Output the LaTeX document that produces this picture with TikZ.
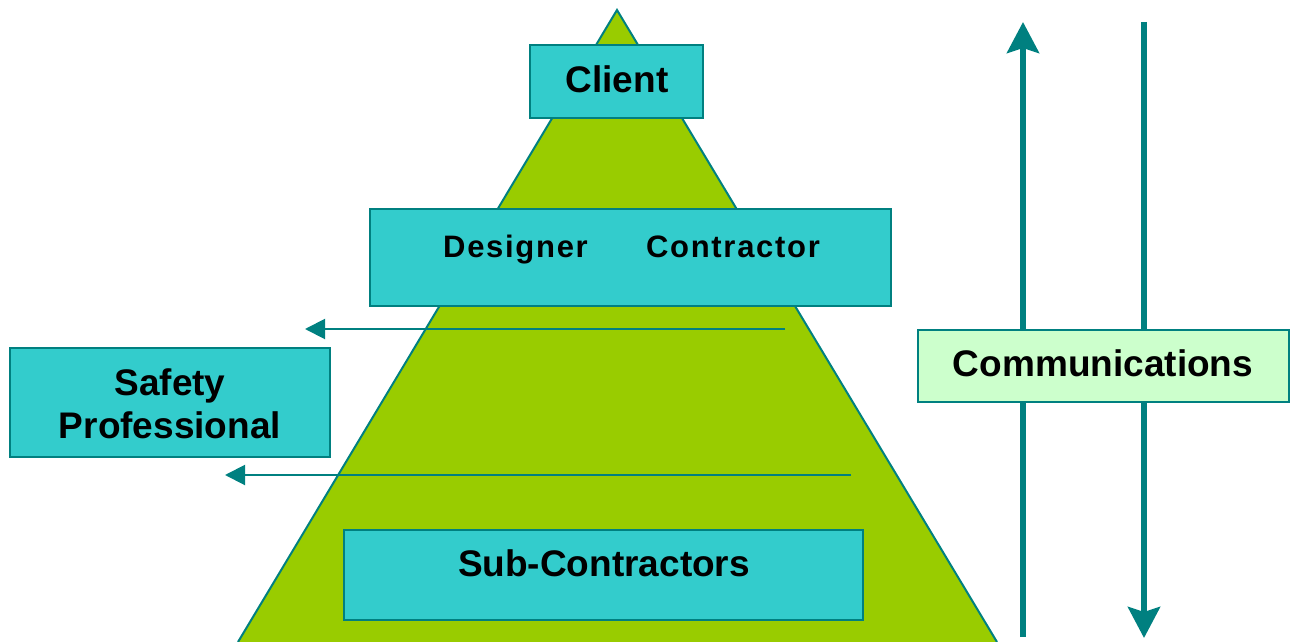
\documentclass[tikz,border=0pt]{standalone}
\usepackage{fontspec}
\setmainfont{Liberation Sans}
\newfontfamily\spacedsans[LetterSpace=5.5]{Liberation Sans}
\usetikzlibrary{arrows.meta}
\definecolor{edgeteal}{HTML}{008080}
\definecolor{boxcyan}{HTML}{33CCCC}
\definecolor{pyramidgreen}{HTML}{99CC00}
\definecolor{palegreen}{HTML}{CCFFCC}
\begin{document}
\begin{tikzpicture}[x=1pt,y=-1pt,
  rolebox/.style={draw=edgeteal, line width=2pt, fill=boxcyan, inner sep=0pt},
  commbox/.style={draw=edgeteal, line width=2pt, fill=palegreen, inner sep=0pt},
  bigtext/.style={font=\fontsize{37}{43}\selectfont\bfseries, inner sep=0pt, align=center},
  midtext/.style={font=\spacedsans\fontsize{31}{37}\selectfont\bfseries, inner sep=0pt, anchor=base},
  feedback/.style={draw=edgeteal, line width=2pt, -{Triangle[length=20pt,width=20pt]}},
  flow/.style={draw=edgeteal, line width=6pt, -{Stealth[length=31pt,width=32pt,inset=5pt]}}
]
\useasboundingbox (0,0) rectangle (1290,642);

% pyramid
\coordinate (apex) at (617,10);
\coordinate (baseL) at (238,642);
\coordinate (baseR) at (997,642);
\filldraw[fill=pyramidgreen, draw=edgeteal, line width=2pt, line join=miter]
  (baseL) -- (apex) -- (baseR);

% reporting arrows towards the safety professional
\coordinate (fbA) at (785,329);
\coordinate (fbAend) at (305,329);
\coordinate (fbB) at (851,475);
\coordinate (fbBend) at (225,475);
\draw[feedback] (fbA) -- (fbAend);
\draw[feedback] (fbB) -- (fbBend);

% role boxes
\node[rolebox, minimum width=173pt, minimum height=73pt] (clientbox) at (616.5,81.5) {};
\node[bigtext] (client) at (617,79) {Client};

\node[rolebox, minimum width=521pt, minimum height=97pt] (dcbox) at (630.5,257.5) {};
\node[midtext] (designer) at (515.5,257) {Designer};
\node[midtext] (contractor) at (733,257) {Contractor};

\node[rolebox, minimum width=320pt, minimum height=109pt] (safetybox) at (170,402.5) {};
\node[bigtext] (safety) at (170,404) {Safety\\Professional};

\node[rolebox, minimum width=519pt, minimum height=90pt] (subbox) at (603.5,575) {};
\node[bigtext] (sub) at (604,563) {Sub-Contractors};

% two-way communication
\coordinate (upS) at (1023,637);
\coordinate (upE) at (1023,22);
\coordinate (downS) at (1144,22);
\coordinate (downE) at (1144,638);
\draw[flow] (upS) -- (upE);
\draw[flow] (downS) -- (downE);

\node[commbox, minimum width=371pt, minimum height=72pt] (commbox) at (1103,366) {};
\node[bigtext] (comm) at (1103,363) {Communications};
\end{tikzpicture}
\end{document}
